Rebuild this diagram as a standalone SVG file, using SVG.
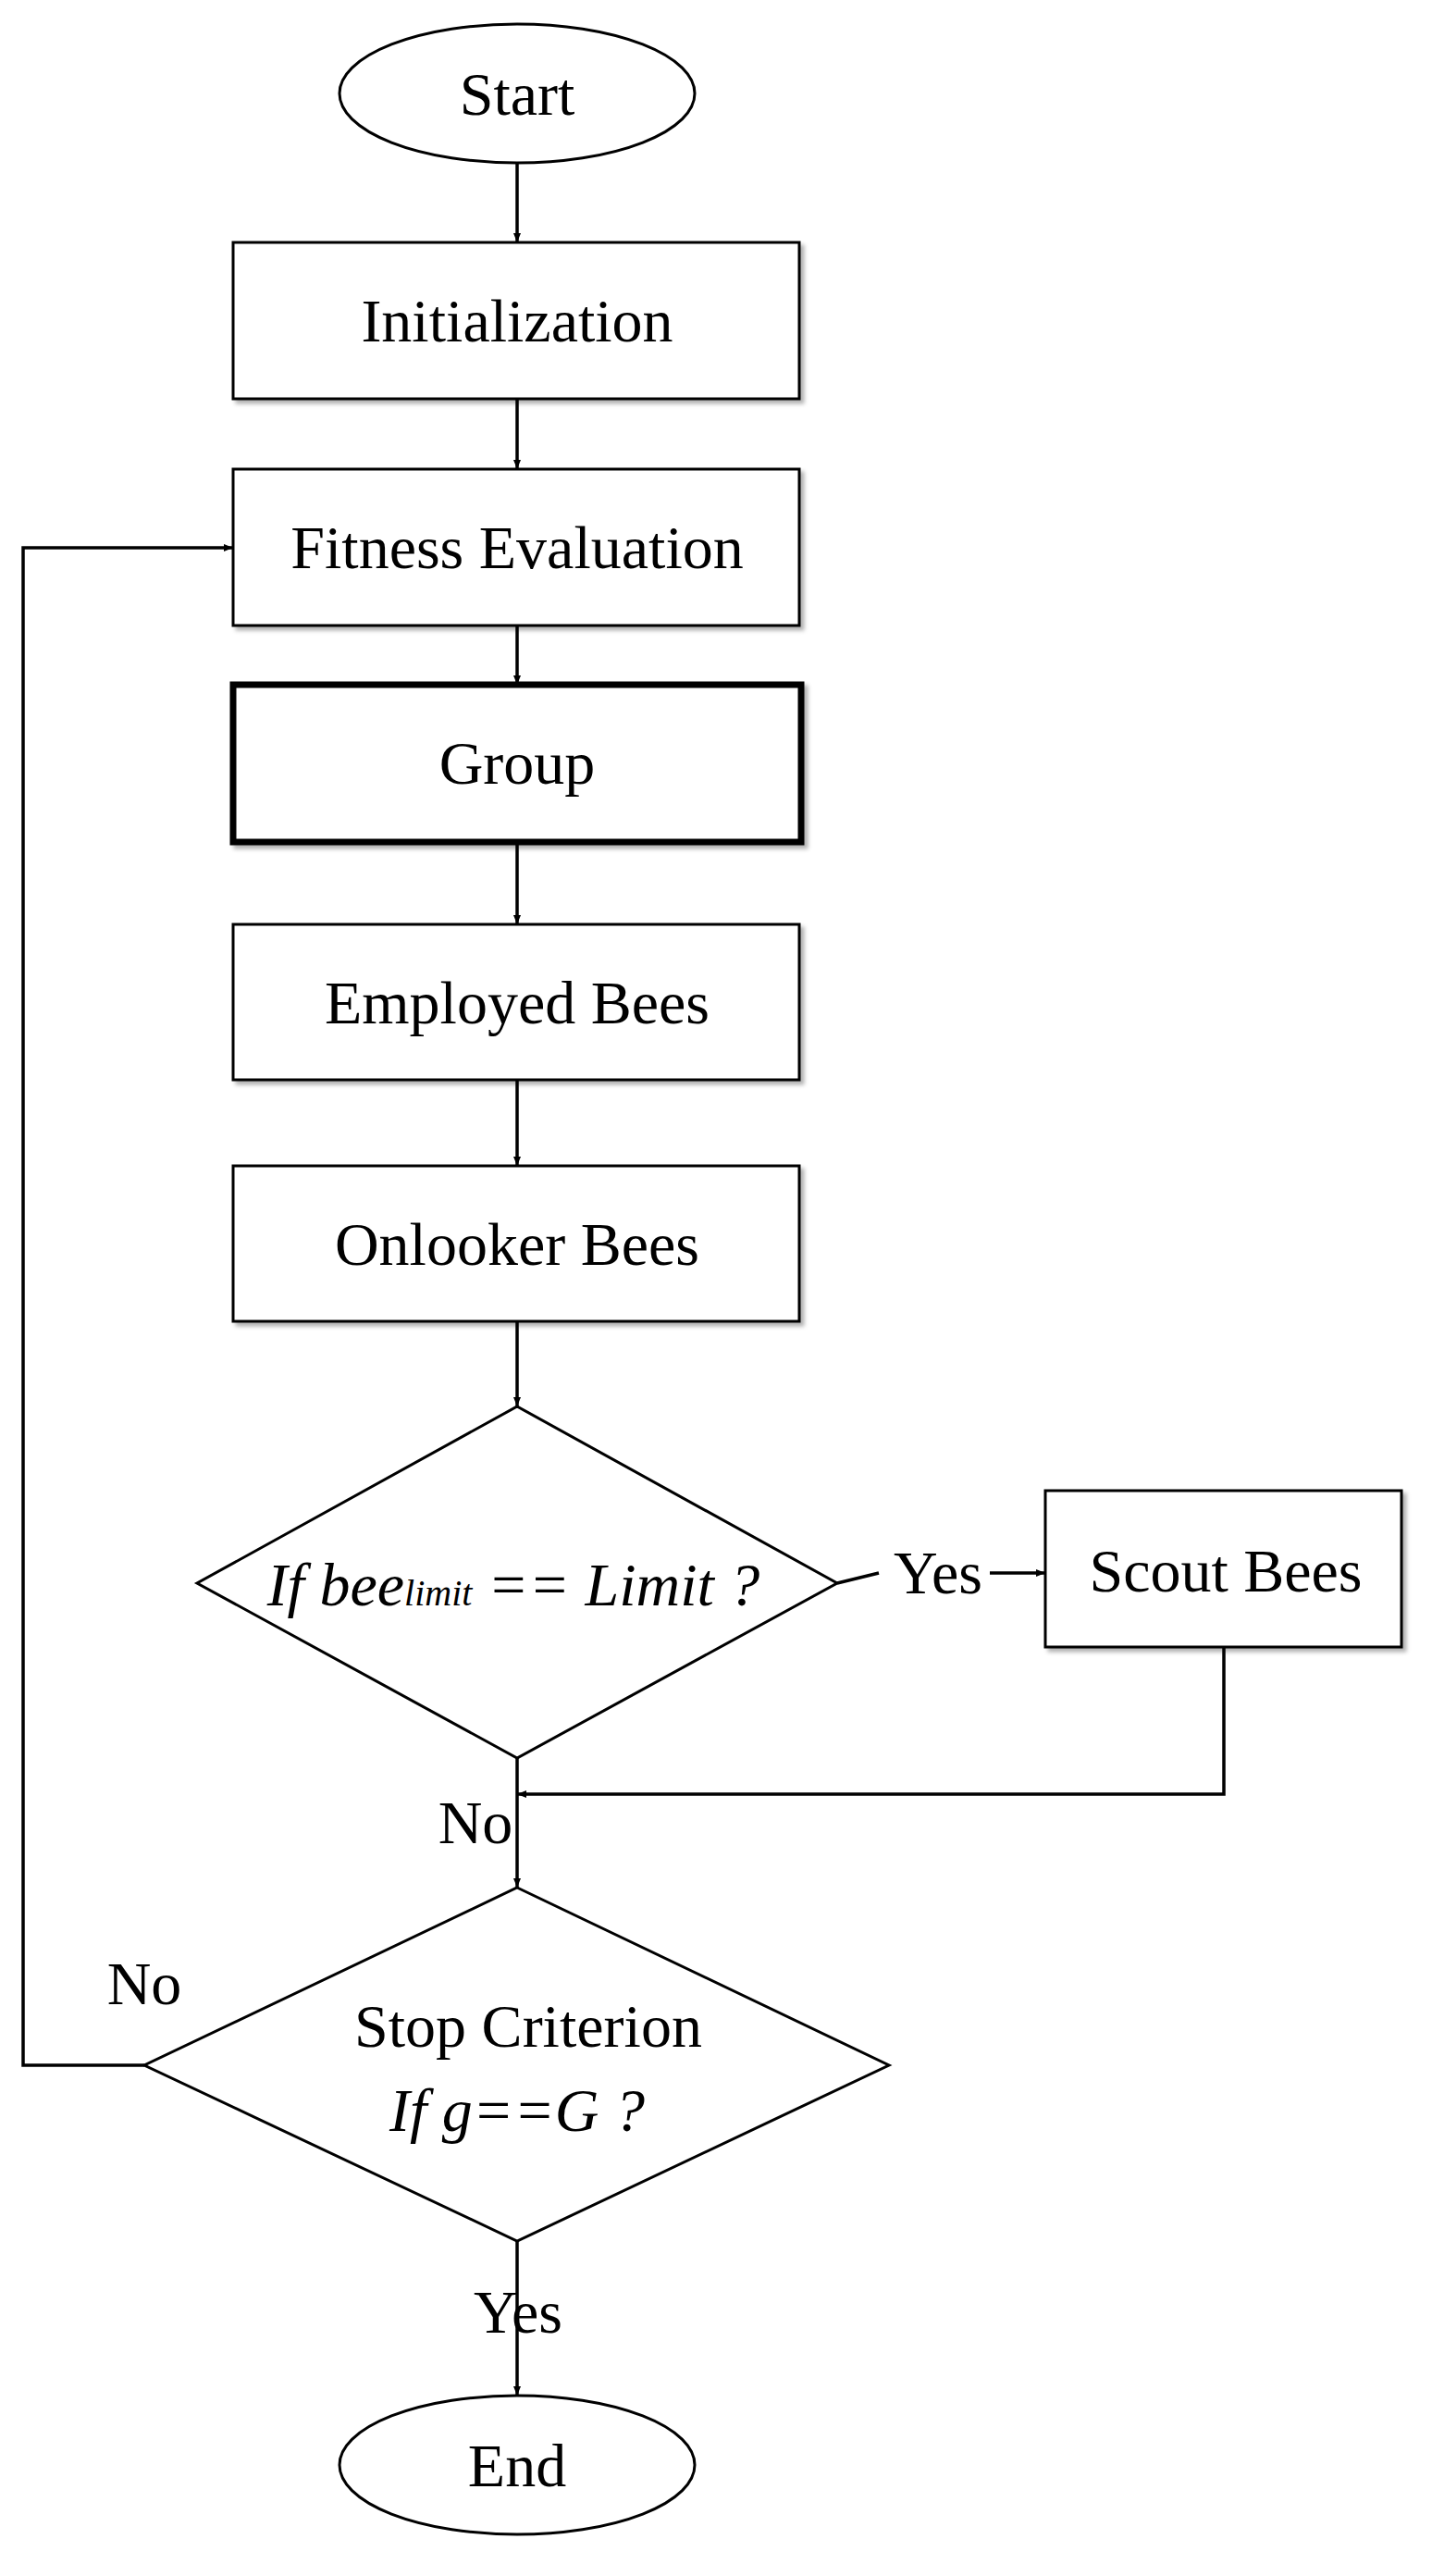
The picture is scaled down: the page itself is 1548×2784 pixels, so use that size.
<svg xmlns="http://www.w3.org/2000/svg" width="1548" height="2784" viewBox="0 0 1548 2784">
<defs>
<marker id="ah" markerWidth="10" markerHeight="8" refX="10" refY="4" orient="auto" markerUnits="userSpaceOnUse" viewBox="0 0 10 8"><path d="M0,0 L10,4 L0,8 z" fill="#000"/></marker>
<filter id="sh" x="-5%" y="-5%" width="115%" height="115%"><feDropShadow dx="4" dy="4" stdDeviation="2" flood-color="#000" flood-opacity="0.3"/></filter>
</defs>
<style>
.n{fill:#fff;stroke:#000;stroke-width:3}
.t{font-family:"Liberation Serif",serif;font-size:66px;text-anchor:middle;fill:#000}
.i{font-style:italic}
.c{fill:none;stroke:#000;stroke-width:3.5}
</style>
<rect width="1548" height="2784" fill="#fff"/>
<g id="start"><ellipse class="n" cx="559" cy="101" rx="192" ry="75"/><text class="t" x="559" y="124">Start</text></g>
<g id="init"><rect class="n" filter="url(#sh)" x="252" y="262" width="612" height="169"/><text class="t" x="559" y="369">Initialization</text></g>
<g id="fitness"><rect class="n" filter="url(#sh)" x="252" y="507" width="612" height="169"/><text class="t" x="559" y="614">Fitness Evaluation</text></g>
<g id="group"><rect class="n" filter="url(#sh)" style="stroke-width:7" x="252" y="740" width="614" height="170"/><text class="t" x="559" y="847">Group</text></g>
<g id="employed"><rect class="n" filter="url(#sh)" x="252" y="999" width="612" height="168"/><text class="t" x="559" y="1106">Employed Bees</text></g>
<g id="onlooker"><rect class="n" filter="url(#sh)" x="252" y="1260" width="612" height="168"/><text class="t" x="559" y="1367">Onlooker Bees</text></g>
<g id="d1"><polygon class="n" points="559,1520 905,1711 559,1900 213,1711"/><text class="t i" x="555" y="1735">If bee<tspan font-size="40">limit</tspan> == Limit ?</text></g>
<g id="scout"><rect class="n" filter="url(#sh)" x="1130" y="1611" width="385" height="169"/><text class="t" x="1325" y="1720">Scout Bees</text></g>
<g id="d2"><polygon class="n" points="559,2040 961,2232 559,2422 156,2232"/><text class="t" x="571" y="2212">Stop Criterion</text><text class="t i" x="559" y="2303">If g==G ?</text></g>
<g id="end"><ellipse class="n" cx="559" cy="2664" rx="192" ry="75"/><text class="t" x="559" y="2687">End</text></g>
<g id="connectors">
<line class="c" x1="559" y1="176" x2="559" y2="262" marker-end="url(#ah)"/>
<line class="c" x1="559" y1="431" x2="559" y2="507" marker-end="url(#ah)"/>
<line class="c" x1="559" y1="676" x2="559" y2="740" marker-end="url(#ah)"/>
<line class="c" x1="559" y1="910" x2="559" y2="999" marker-end="url(#ah)"/>
<line class="c" x1="559" y1="1167" x2="559" y2="1260" marker-end="url(#ah)"/>
<line class="c" x1="559" y1="1428" x2="559" y2="1520" marker-end="url(#ah)"/>
<line class="c" x1="905" y1="1711" x2="950" y2="1700"/>
<line class="c" x1="1070" y1="1700" x2="1130" y2="1700" marker-end="url(#ah)"/>
<polyline class="c" points="1323,1780 1323,1939 559,1939" marker-end="url(#ah)"/>
<line class="c" x1="559" y1="1900" x2="559" y2="2040" marker-end="url(#ah)"/>
<polyline class="c" points="156,2232 25,2232 25,592 252,592" marker-end="url(#ah)"/>
<line class="c" x1="559" y1="2422" x2="559" y2="2589" marker-end="url(#ah)"/>
<text class="t" x="1014" y="1722">Yes</text>
<text class="t" x="514" y="1992">No</text>
<text class="t" x="156" y="2166">No</text>
<text class="t" x="560" y="2521">Yes</text>
</g>
</svg>
